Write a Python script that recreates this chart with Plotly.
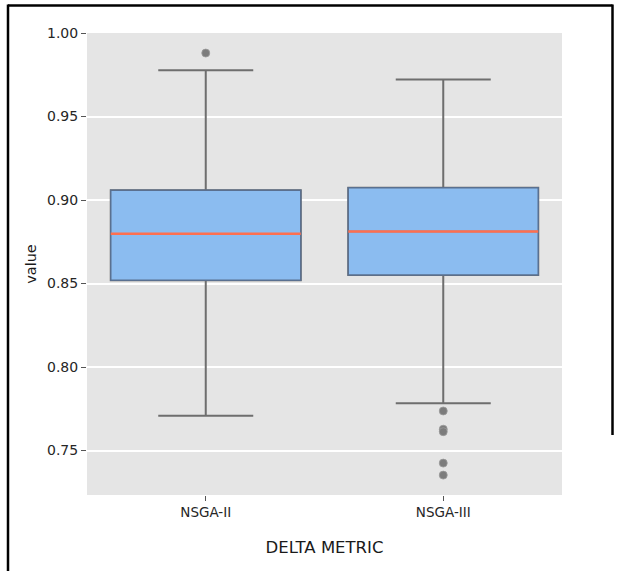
import plotly.graph_objects as go

# ---- data ----
algorithms = ["NSGA-II", "NSGA-III"]
q1 = [0.8519, 0.8551]
median = [0.8798, 0.8811]
q3 = [0.9058, 0.9074]
lower_whisker = [0.7709, 0.7783]
upper_whisker = [0.9777, 0.9721]
outliers_nsga2 = [0.988]
outliers_nsga3 = [0.7737, 0.7628, 0.7613, 0.7425, 0.7353]
outliers = [outliers_nsga2, outliers_nsga3]

x_title = "DELTA METRIC"
y_title = "value"
y_ticks = [0.75, 0.80, 0.85, 0.90, 0.95, 1.00]

# ---- styling ----
W, H = 619, 571
ML, MR, MT, MB = 87, 57, 33, 76
BOX_W = 0.8
FILL = "#8bbcf0"
EDGE = "#5a7090"
WHISK = "#6e6e6e"
MED = "#ff6f4f"
FONT = "DejaVu Sans"

xs = list(range(len(algorithms)))
fig = go.Figure()

# whiskers / caps (gray)
fig.add_trace(go.Box(
    x=xs, q1=q1, median=median, q3=q3,
    lowerfence=lower_whisker, upperfence=upper_whisker,
    width=BOX_W, whiskerwidth=0.5,
    line=dict(color=WHISK, width=2), fillcolor="rgba(0,0,0,0)",
    boxpoints=False, showlegend=False, hoverinfo="skip",
))
# box body (blue)
fig.add_trace(go.Box(
    x=xs, q1=q1, median=median, q3=q3,
    lowerfence=q1, upperfence=q3,
    width=BOX_W, whiskerwidth=0,
    line=dict(color=EDGE, width=1.5), fillcolor=FILL,
    boxpoints=False, showlegend=False, hoverinfo="skip",
))
# median lines (orange)
for i, m in zip(xs, median):
    fig.add_trace(go.Scatter(
        x=[i - BOX_W / 2, i + BOX_W / 2], y=[m, m], mode="lines",
        line=dict(color=MED, width=2.5), showlegend=False, hoverinfo="skip",
    ))
# outliers
for i, pts in zip(xs, outliers):
    fig.add_trace(go.Scatter(
        x=[i] * len(pts), y=pts, mode="markers",
        marker=dict(color="#7c7c7c", size=8, line=dict(color="#9a9a9a", width=0.8)),
        showlegend=False, hoverinfo="skip",
    ))

fig.update_layout(
    width=W, height=H,
    margin=dict(l=ML, r=MR, t=MT, b=MB),
    paper_bgcolor="white", plot_bgcolor="#e5e5e5",
    boxmode="overlay",
    font=dict(family=FONT, size=14, color="#262626"),
    xaxis=dict(
        range=[-0.5, len(algorithms) - 0.5],
        tickmode="array", tickvals=xs, ticktext=algorithms,
        showgrid=False, zeroline=False,
        ticks="outside", ticklen=5, tickcolor="#555555", tickwidth=1.2,
        tickfont=dict(size=13.5, color="#262626"),
        title=dict(text=x_title, font=dict(size=16.5, color="#1a1a1a"), standoff=22),
    ),
    yaxis=dict(
        range=[0.7234, 1.0],
        tickmode="array", tickvals=y_ticks, ticktext=[f"{v:.2f}" for v in y_ticks],
        showgrid=True, gridcolor="white", gridwidth=1.5, zeroline=False,
        ticks="outside", ticklen=5, tickcolor="#555555", tickwidth=1.2,
        tickfont=dict(size=14, color="#262626"),
        title=dict(text=y_title, font=dict(size=14.5, color="#1a1a1a"), standoff=6),
    ),
)

# outer frame of the picture (pixel positions -> paper coords)
pw, ph = W - ML - MR, H - MT - MB
def px(xp):
    return (xp - ML) / pw
def py(yp):
    return (H - MB - yp) / ph

frame = dict(color="black", width=2.5)
fig.add_shape(type="line", xref="paper", yref="paper",
              x0=px(8), x1=px(8), y0=py(4.5), y1=py(571), line=frame)
fig.add_shape(type="line", xref="paper", yref="paper",
              x0=px(8), x1=px(612.5), y0=py(5.5), y1=py(5.5), line=frame)
fig.add_shape(type="line", xref="paper", yref="paper",
              x0=px(612.5), x1=px(612.5), y0=py(4.5), y1=py(435), line=frame)

fig.write_html(
    "out.html",
    config={"displayModeBar": False},
    post_script="document.body.style.margin='0';document.body.style.overflow='hidden';",
)
